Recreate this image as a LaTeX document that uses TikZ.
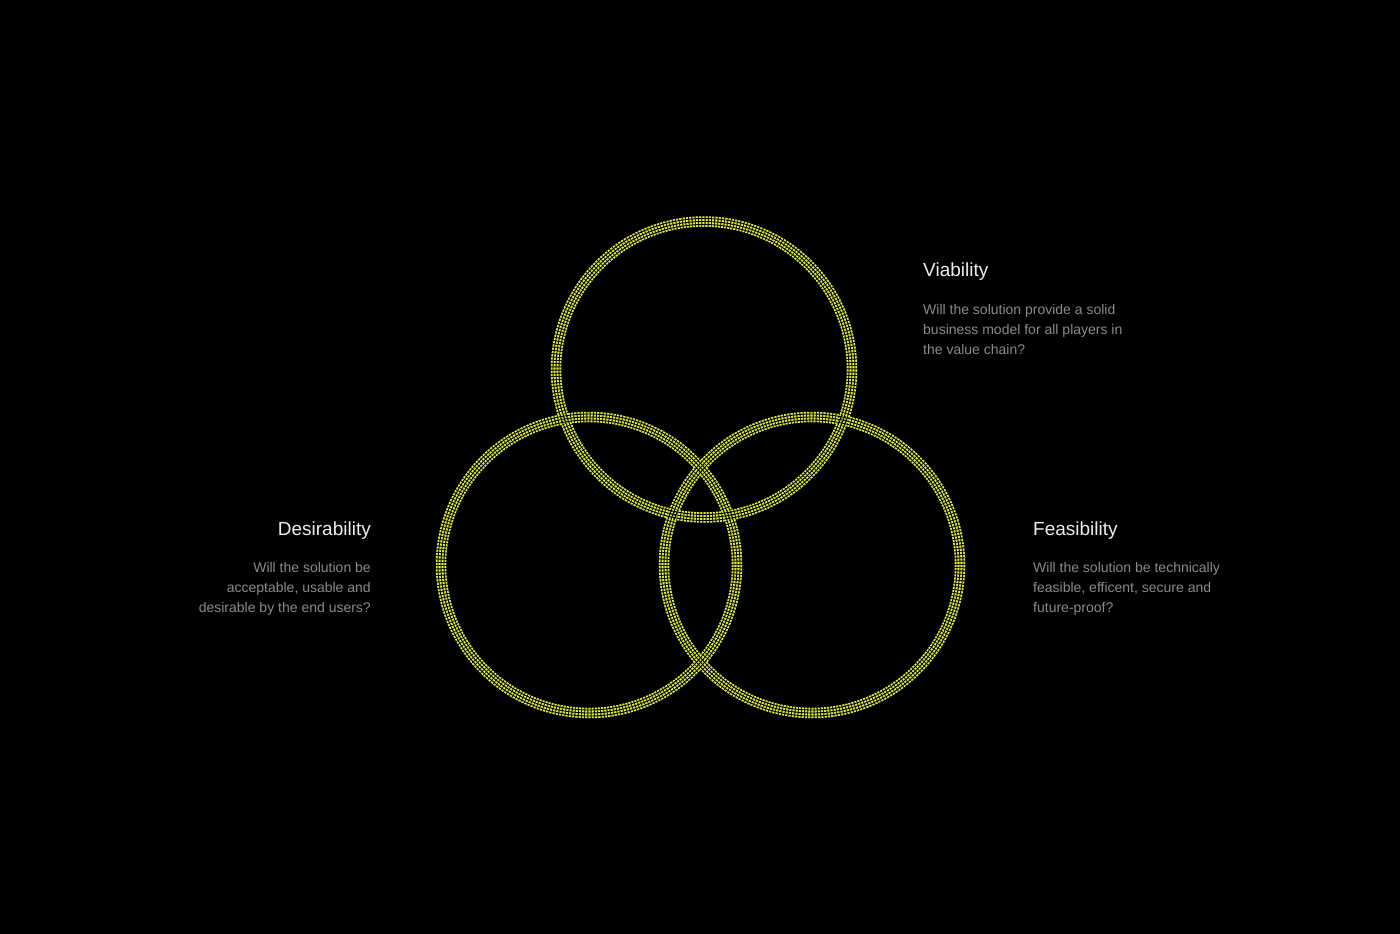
\documentclass[tikz,border=0pt]{standalone}
\usepackage{fontspec}
\setmainfont{Liberation Sans}
\definecolor{ringyellow}{HTML}{DCEB3C}
\definecolor{titlecol}{HTML}{EDEDED}
\definecolor{bodycol}{HTML}{8A8A8A}
\tikzset{
  ringbase/.style={draw=ringyellow, line width=10.5pt, dash pattern=on 2.2pt off 1.0066pt},
  ringgrid/.style={draw=black, line width=0.9pt},
  titletext/.style={text=titlecol, font=\fontsize{19}{22}\selectfont, inner sep=0pt},
  bodytext/.style={text=bodycol, font=\fontsize{14}{20}\selectfont, inner sep=0pt},
}
\begin{document}
\begin{tikzpicture}[x=1pt,y=-1pt]
  \fill[black] (0,0) rectangle (1400,934);
  \useasboundingbox (0,0) rectangle (1400,934);
  % circles
  \coordinate (cv) at (704,369.5);
  \coordinate (cd) at (589,565);
  \coordinate (cf) at (812,565);
  \foreach \c in {cv,cd,cf}{
    \draw[ringbase] (\c) circle[radius=148];
  }
  \foreach \c in {cv,cd,cf}{
    \foreach \d in {-3,0,3}{
      \draw[ringgrid] (\c) circle[radius=148+\d];
    }
  }
  % texts
  \node[titletext, anchor=west] (vt) at (923,272) {Viability};
  \node[bodytext, anchor=north west, align=left] (vb) at (923,304)
    {Will the solution provide a solid\\business model for all players in\\the value chain?};
  \node[titletext, anchor=east] (dt) at (371,531) {Desirability};
  \node[bodytext, anchor=north east, align=right] (db) at (371,562)
    {Will the solution be\\acceptable, usable and\\desirable by the end users?};
  \node[titletext, anchor=west] (ft) at (1033,531) {Feasibility};
  \node[bodytext, anchor=north west, align=left] (fb) at (1033,562)
    {Will the solution be technically\\feasible, efficent, secure and\\future-proof?};
\end{tikzpicture}
\end{document}
